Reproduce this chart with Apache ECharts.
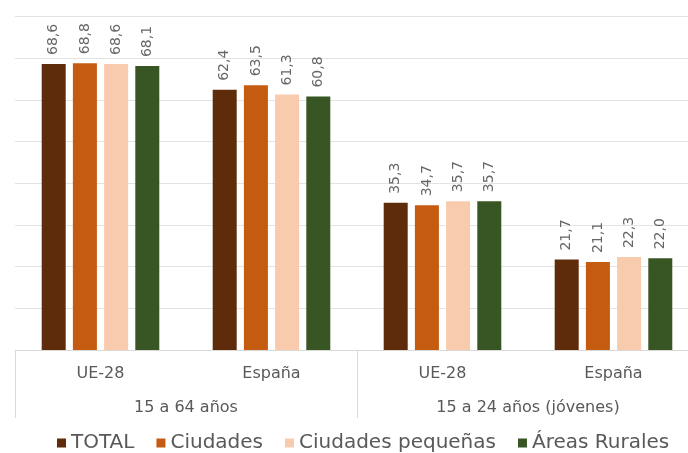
<!DOCTYPE html>
<html>
<head>
<meta charset="utf-8">
<script src="https://cdn.jsdelivr.net/npm/echarts@6/dist/echarts.min.js"></script>
<style>
html,body{margin:0;padding:0;background:#fff;}
#c{width:688px;height:453px;}
</style>
</head>
<body>
<div id="c"></div>
<script>
var categories = ['UE-28', 'España', 'UE-28', 'España'];
var groups = ['15 a 64 años', '15 a 24 años (jóvenes)'];
var seriesNames = ['TOTAL', 'Ciudades', 'Ciudades pequeñas', 'Áreas Rurales'];
var total = [68.6, 62.4, 35.3, 21.7];
var ciudades = [68.8, 63.5, 34.7, 21.1];
var pequenas = [68.6, 61.3, 35.7, 22.3];
var rurales = [68.1, 60.8, 35.7, 22.0];
var colors = ['#5E2C0B', '#C55A11', '#F8CBAD', '#375623'];

var chart = echarts.init(document.getElementById('c'));
var font = 'DejaVu Sans';
var textColor = '#595959';

function mk(name, data, color) {
  return {
    name: name,
    type: 'bar',
    data: data,
    barWidth: 24,
    barGap: '30%',
    itemStyle: { color: color },
    label: {
      show: true,
      position: 'top',
      rotate: 90,
      align: 'left',
      verticalAlign: 'middle',
      distance: 9,
      fontFamily: font,
      fontSize: 14,
      color: '#666',
      formatter: function (p) { return p.value.toFixed(1).replace('.', ','); }
    }
  };
}

chart.setOption({
  animation: false,
  backgroundColor: '#fff',
  color: colors,
  grid: { left: 15, top: 16.5, width: 684, bottom: 103, containLabel: false, outerBoundsMode: 'none' },
  legend: {
    top: 428,
    left: 52,
    icon: 'rect',
    itemWidth: 9,
    itemHeight: 9,
    itemGap: 22,
    textStyle: { fontFamily: font, fontSize: 20, color: textColor },
    data: seriesNames
  },
  xAxis: [
    {
      type: 'category',
      data: categories,
      axisLine: { lineStyle: { color: '#d9d9d9' } },
      axisTick: { show: false },
      axisLabel: { margin: 16, fontFamily: font, fontSize: 16, color: textColor }
    },
    {
      type: 'category',
      data: groups,
      position: 'bottom',
      axisLine: { show: false },
      axisTick: { show: true, length: 68, interval: 0, lineStyle: { color: '#d9d9d9' } },
      axisLabel: { margin: 50, fontFamily: font, fontSize: 16, color: textColor }
    }
  ],
  yAxis: {
    type: 'value',
    min: 0,
    max: 80,
    interval: 10,
    axisLabel: { show: false },
    axisLine: { show: false },
    axisTick: { show: false },
    splitLine: { lineStyle: { color: '#e3e3e3' } }
  },
  series: [
    mk(seriesNames[0], total, colors[0]),
    mk(seriesNames[1], ciudades, colors[1]),
    mk(seriesNames[2], pequenas, colors[2]),
    mk(seriesNames[3], rurales, colors[3])
  ]
});
</script>
</body>
</html>
